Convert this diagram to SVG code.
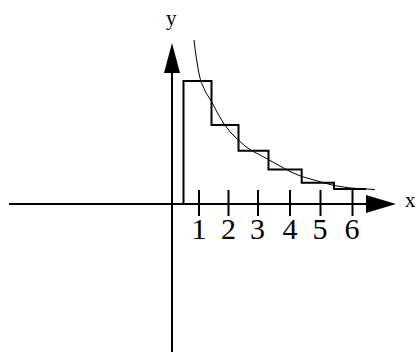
<svg xmlns="http://www.w3.org/2000/svg" width="416" height="352" viewBox="0 0 416 352">
<defs>
<style>
.ax{stroke:#000;stroke-width:2;fill:none}
.tk{stroke:#000;stroke-width:2}
.st{stroke:#000;stroke-width:2;fill:none}
.cv{stroke:#000;stroke-width:1;fill:none;stroke-linejoin:round}
.lb{font-family:"Liberation Serif","Times New Roman",serif;fill:#000}
.num{font-size:30px;text-anchor:middle}
.axl{font-size:21px}
.ah{fill:#000}
</style>
</defs>
<rect width="416" height="352" fill="#fff"/>
<g id="axes">
<line class="ax" x1="9" y1="204" x2="370" y2="204"/>
<polygon class="ah" points="366,195 396,204 366,213"/>
<line class="ax" x1="172" y1="70" x2="172" y2="352"/>
<polygon class="ah" points="164,73 172,43 180,73"/>
</g>
<g id="ticks">
<line class="tk" x1="199" y1="190" x2="199" y2="216"/>
<line class="tk" x1="228.5" y1="190" x2="228.5" y2="216"/>
<line class="tk" x1="258" y1="190" x2="258" y2="216"/>
<line class="tk" x1="290" y1="190" x2="290" y2="216"/>
<line class="tk" x1="320.5" y1="190" x2="320.5" y2="216"/>
<line class="tk" x1="352.5" y1="190" x2="352.5" y2="216"/>
</g>
<g id="steps">
<path class="st" d="M183.5,204 V81 H211.5 V125 H238.5 V150.7 H268.5 V169.5 H301.7 V182.7 H334 V189 H366"/>
</g>
<g id="curve">
<path class="cv" d="M194,40 L195.2,50 L196.7,60 L198.5,71 L200.7,81 L205.5,92 L211.7,101.7 L217.5,113 L224,124 L231,133 L238.3,140 L245,146 L251.7,150.7 L260,155 L268.3,159.5 L280,166 L290,171.5 L301.7,176.5 L320,181.7 L334,185.5 L350,188 L375,189.5"/>
</g>
<g id="labels">
<text class="lb num" x="199" y="239">1</text>
<text class="lb num" x="228.5" y="239">2</text>
<text class="lb num" x="257.5" y="239">3</text>
<text class="lb num" x="290" y="239">4</text>
<text class="lb num" x="320" y="239">5</text>
<text class="lb num" x="352" y="239">6</text>
<text class="lb axl" x="405" y="207">x</text>
<text class="lb axl" x="166" y="25">y</text>
</g>
</svg>
